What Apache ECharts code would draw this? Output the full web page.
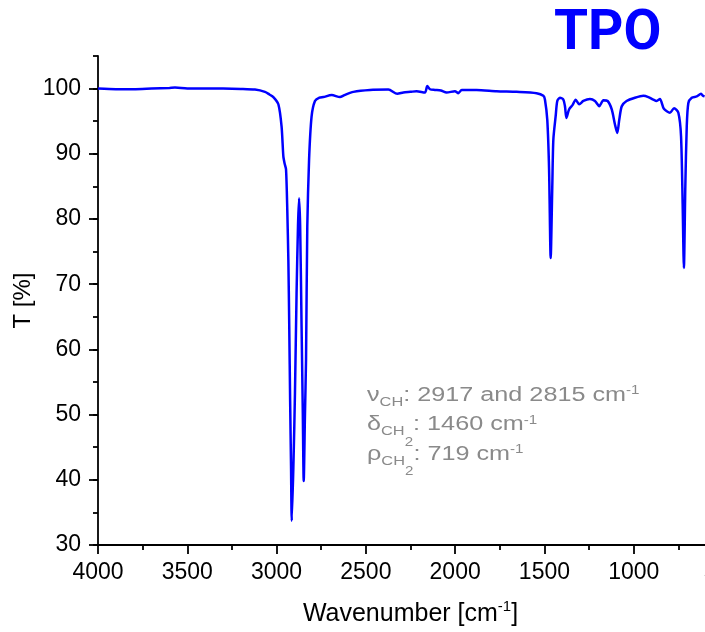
<!DOCTYPE html>
<html>
<head>
<meta charset="utf-8">
<script src="https://cdn.jsdelivr.net/npm/echarts@6/dist/echarts.min.js"></script>
<style>
  html, body { margin: 0; padding: 0; background: #fff; }
  #main { width: 705px; height: 632px; }
</style>
</head>
<body>
<div id="main"></div>
<script>
// IR spectrum of TPO
var wavenumber = [
  4000, 3900, 3800, 3700, 3600, 3569, 3500, 3400, 3300, 3200, 3121, 3065, 3040, 3018, 2990, 2972,
  2962, 2955, 2947, 2940, 2934, 2929, 2924, 2919, 2915, 2905, 2897, 2888, 2880, 2874, 2868,
  2860, 2853, 2848, 2841, 2835, 2828, 2818, 2804, 2785, 2760, 2738, 2691, 2645, 2620, 2570,
  2477, 2374, 2324, 2290, 2250, 2216, 2169, 2156, 2141, 2113, 2080, 2048, 2001, 1982, 1963,
  1880, 1768, 1656, 1544, 1506, 1497, 1484, 1474, 1465, 1456, 1450, 1437, 1428, 1413, 1394,
  1385, 1377, 1362, 1342, 1325, 1305, 1282, 1245, 1217, 1193, 1170, 1146, 1123, 1105, 1092,
  1081, 1067, 1040, 993, 946, 918, 890, 872, 853, 831, 797, 774, 750, 735, 726, 719, 711,
  703, 694, 675, 647, 623, 612, 603
];
var transmittance = [
  100.0, 99.9, 99.9, 100.0, 100.1, 100.15, 100.0, 100.0, 100.0, 99.95, 99.85, 99.5, 99.1, 98.7, 97.6, 94.2,
  89.6, 88.5, 87.6, 81.4, 73.7, 63.5, 52.0, 42.0, 33.7, 43.0, 53.3, 68.6, 79.0, 83.2, 79.0,
  63.5, 50.0, 39.8, 50.0, 58.4, 78.8, 89.1, 95.7, 98.1, 98.6, 98.7, 99.0, 98.7, 99.0, 99.5,
  99.8, 99.85, 99.2, 99.4, 99.5, 99.6, 99.4, 100.4, 99.9, 99.8, 99.7, 99.4, 99.6, 99.3, 99.8,
  99.8, 99.6, 99.5, 99.3, 98.9, 98.3, 95.2, 87.6, 74.0, 85.0, 92.2, 95.8, 98.1, 98.6, 98.3,
  97.3, 95.5, 96.8, 97.5, 98.3, 97.6, 98.1, 98.4, 98.1, 97.3, 98.2, 98.1, 96.8, 94.5, 93.2,
  95.2, 97.3, 98.1, 98.6, 98.9, 98.7, 98.3, 98.1, 98.4, 96.9, 96.3, 97.0, 96.3, 92.7, 82.4, 72.5, 85.0,
  94.2, 97.8, 98.6, 98.8, 99.2, 98.9, 98.8
];
var yMajorTicks = [30, 40, 50, 60, 70, 80, 90, 100];
var annotationLines = [
  '{g|ν}{s|CH}{g|: 2917 and 2815 cm}{u|-1}',
  '{g|δ}{s|CH}{ss|2}{g|: 1460 cm}{u|-1}',
  '{g|ρ}{s|CH}{ss|2}{g|: 719 cm}{u|-1}'
];

var font = "'Liberation Sans', Arial, sans-serif";
var chart = echarts.init(document.getElementById('main'));

var points = wavenumber.map(function (w, i) {
  return [w, transmittance[i]];
});

var tickStyle = { color: '#000', width: 1.8 };
var axisLine = { show: true, lineStyle: tickStyle };
var plain = function (v) { return String(v); };

// annotation: one text per line; main text sits at the top, subscripts lower down
var grey = '#8a8a8a';
var annotationRich = {
  g: { fontSize: 20, fontFamily: font, fill: grey, lineHeight: 20, verticalAlign: 'top' },
  s: { fontSize: 13, fontFamily: font, fill: grey, lineHeight: 34, verticalAlign: 'middle' },
  ss: { fontSize: 12, fontFamily: font, fill: grey, lineHeight: 33, verticalAlign: 'bottom' },
  u: { fontSize: 12, fontFamily: font, fill: grey, lineHeight: 12, verticalAlign: 'top' }
};
var annotation = annotationLines.map(function (line, i) {
  return {
    type: 'text',
    x: 367,
    y: 385 + i * 29.5,
    scaleX: 1.26,
    silent: true,
    style: { text: line, rich: annotationRich, align: 'left', verticalAlign: 'top' }
  };
});

var option = {
  animation: false,
  backgroundColor: '#fff',
  grid: { left: 98, right: -18, top: 56, bottom: 87, outerBoundsMode: 'none', containLabel: false },
  xAxis: {
    type: 'value',
    inverse: true,
    min: 500,
    max: 4000,
    interval: 500,
    splitLine: { show: false },
    axisLine: axisLine,
    axisTick: { show: true, length: 9, lineStyle: tickStyle },
    minorTick: { show: true, splitNumber: 2, length: 5, lineStyle: tickStyle },
    axisLabel: { color: '#000', fontSize: 23, fontFamily: font, margin: 16, formatter: plain },
    name: '{a|Wavenumber [cm}{b|-1}{a|]}',
    nameLocation: 'middle',
    nameGap: 54,
    nameMoveOverlap: false,
    nameTextStyle: {
      rich: {
        a: { fontSize: 25, fontFamily: font, color: '#000', lineHeight: 30, verticalAlign: 'middle' },
        b: { fontSize: 15, fontFamily: font, color: '#000', lineHeight: 12, verticalAlign: 'top' }
      }
    }
  },
  yAxis: [
    {
      type: 'value',
      min: 30,
      max: 105,
      interval: 10,
      splitLine: { show: false },
      axisLine: axisLine,
      axisTick: { show: true, length: 9, customValues: yMajorTicks, lineStyle: tickStyle },
      axisLabel: { color: '#000', fontSize: 23, fontFamily: font, margin: 17, customValues: yMajorTicks, formatter: plain },
      name: 'T [%]',
      nameLocation: 'middle',
      nameGap: 63,
      nameMoveOverlap: false,
      nameTextStyle: { color: '#000', fontSize: 24, fontFamily: font }
    },
    {
      // short ticks every 5 %
      type: 'value',
      position: 'left',
      min: 30,
      max: 105,
      interval: 5,
      splitLine: { show: false },
      axisLine: { show: false },
      axisTick: { show: true, length: 5, lineStyle: tickStyle },
      axisLabel: { show: false }
    }
  ],
  graphic: [
    {
      type: 'text',
      left: 554,
      top: 8,
      style: {
        text: 'TPO',
        fill: '#0000ff',
        font: "bold 55px Roboto, 'Liberation Sans', sans-serif"
      }
    }
  ].concat(annotation),
  series: [
    {
      type: 'line',
      data: points,
      showSymbol: false,
      smooth: 0.25,
      clip: true,
      lineStyle: { color: '#0000ff', width: 2.5 }
    }
  ]
};

chart.setOption(option);
</script>
</body>
</html>
